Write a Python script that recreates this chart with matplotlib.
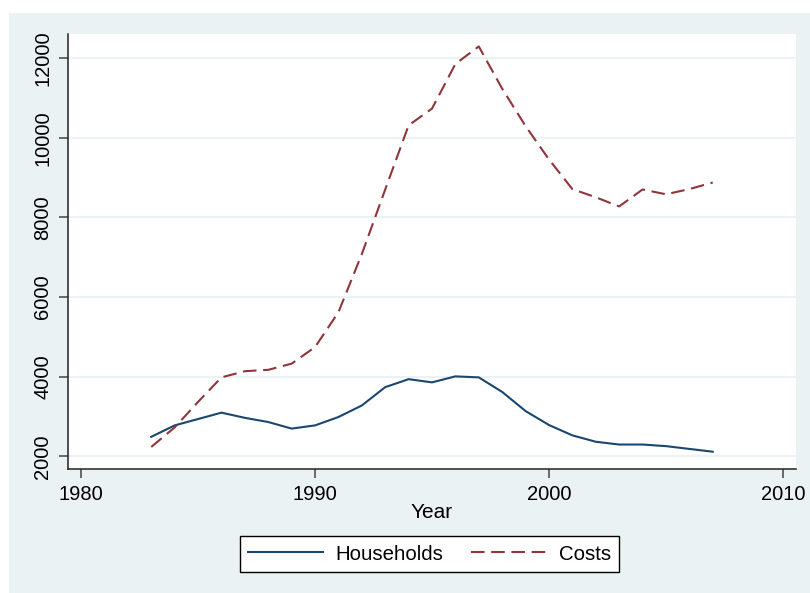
import matplotlib
matplotlib.use("Agg")
import matplotlib.pyplot as plt
from matplotlib.patches import Rectangle

years = list(range(1983, 2008))
households = [2494, 2780, 2940, 3100, 2970, 2865, 2700, 2780, 2990, 3280,
              3740, 3940, 3860, 4010, 3985, 3620, 3140, 2790, 2530, 2370,
              2300, 2300, 2260, 2190, 2120]
costs = [2240, 2730, 3370, 3985, 4140, 4175, 4330, 4745, 5620, 7080,
         8700, 10310, 10730, 11850, 12290, 11230, 10290, 9455, 8710, 8505,
         8275, 8700, 8580, 8710, 8875]
x_ticks = [1980, 1990, 2000, 2010]
y_ticks = [2000, 4000, 6000, 8000, 10000, 12000]

bg_color = "#eaf2f3"
navy = "#1a476f"
maroon = "#90353b"

plt.rcParams["font.family"] = ["Liberation Sans", "DejaVu Sans"]

fig = plt.figure(figsize=(8.1, 5.93), dpi=100)
fig.patch.set_facecolor("white")
fig.patches.append(Rectangle((9 / 810, 0), 1, 1 - 13 / 593, transform=fig.transFigure,
                             facecolor=bg_color, edgecolor="none", zorder=-1))

ax = fig.add_axes([68 / 810, 1 - 469 / 593, (796 - 68) / 810, (469 - 34) / 593])
ax.set_zorder(1)
ax.set_facecolor("white")

ax.plot(years, households, color=navy, lw=1.5, label="Households")
ax.plot(years, costs, color=maroon, lw=1.5, dashes=(6.5, 3.2), label="Costs")

ax.set_xlim(1979.44, 2010.56)
ax.set_ylim(1686, 12602)
ax.set_xticks(x_ticks)
ax.set_yticks(y_ticks)
ax.set_yticklabels([str(v) for v in y_ticks], rotation=90, va="center")
ax.grid(axis="y", color=bg_color, lw=1.5)
ax.set_axisbelow(True)

for side in ["top", "right"]:
    ax.spines[side].set_visible(False)
for side in ["left", "bottom"]:
    ax.spines[side].set_color("#222222")
    ax.spines[side].set_linewidth(1.1)

ax.tick_params(axis="both", labelsize=14.5, length=6.3, width=1.1, color="#444444")
ax.tick_params(axis="y", pad=5)
ax.tick_params(axis="x", pad=5.5)

ax.set_xlabel("Year", fontsize=15, va="center")
ax.xaxis.set_label_coords(0.5, -(513 - 469) / 435)

leg = fig.legend(loc="center", bbox_to_anchor=(429.5 / 810, 1 - 554 / 593), ncol=2,
                 fontsize=14.7, frameon=True, fancybox=False, framealpha=1,
                 handlelength=3.7, handletextpad=0.6, columnspacing=1.35,
                 borderpad=0.4)
leg.get_frame().set_edgecolor("black")
leg.get_frame().set_facecolor("white")
leg.get_frame().set_linewidth(1.0)

fig.savefig("out.png", dpi=100)
